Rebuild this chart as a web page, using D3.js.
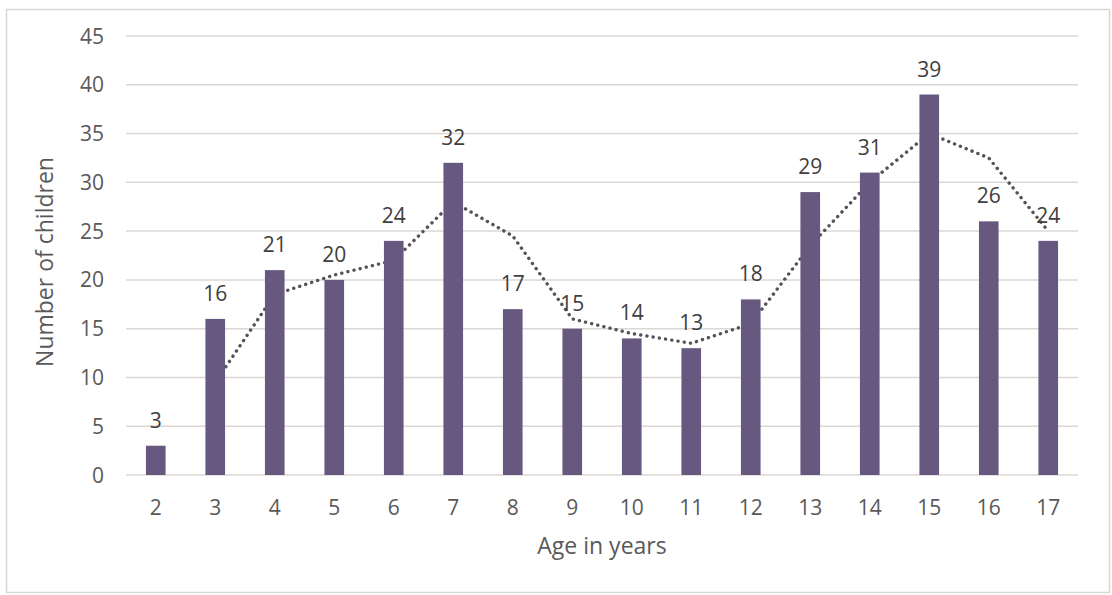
<!DOCTYPE html>
<html>
<head>
<meta charset="utf-8">
<script src="https://cdn.jsdelivr.net/npm/d3@7"></script>
<style>
  body { margin: 0; background: #fff; }
  text { font-family: "Open Sans", Lato, sans-serif; fill: #595959; }
</style>
</head>
<body>
<div id="chart"></div>
<script>
// ages on the x axis
let ages = ["2","3","4","5","6","7","8","9","10","11","12","13","14","15","16","17"];
// number of children per age
let counts = [3,16,21,20,24,32,17,15,14,13,18,29,31,39,26,24];
// 2 period moving average trendline (none for the first age)
let trend = [null,9.5,18.5,20.5,22,28,24.5,16,14.5,13.5,15.5,23.5,30,35,32.5,25];
let yTicks = [0,5,10,15,20,25,30,35,40,45];

function renderChart(){
  let width = 1112,
      height = 595;

  let svg = d3.select("#chart")
    .append("svg")
    .attr("width", width)
    .attr("height", height);

  // outer frame
  svg.append("rect")
    .attr("x", 6.5).attr("y", 9.5)
    .attr("width", 1103).attr("height", 583)
    .attr("fill", "#fff")
    .attr("stroke", "#d9d6d3")
    .attr("stroke-width", 1.5);

  let left = 126, right = 1078, top = 36, bottom = 475;

  let x = d3.scaleBand()
    .domain(ages)
    .range([left, right])
    .paddingInner(0.67)
    .paddingOuter(0.335);

  let y = d3.scaleLinear()
    .domain([0, 45])
    .range([bottom, top]);

  // gridlines
  svg.append("g")
    .selectAll("line")
    .data(yTicks)
    .enter()
    .append("line")
      .attr("x1", left).attr("x2", right)
      .attr("y1", d => y(d)).attr("y2", d => y(d))
      .attr("stroke", "#dcd7d3")
      .attr("stroke-width", 1.5);

  // y tick labels
  svg.append("g")
    .selectAll("text")
    .data(yTicks)
    .enter()
    .append("text")
      .attr("x", 104)
      .attr("y", d => y(d) + 7.5)
      .style("text-anchor", "end")
      .style("font-size", "21px")
      .text(d => d);

  // x tick labels
  svg.append("g")
    .selectAll("text")
    .data(ages)
    .enter()
    .append("text")
      .attr("x", d => x(d) + x.bandwidth()/2)
      .attr("y", 515)
      .style("text-anchor", "middle")
      .style("font-size", "21px")
      .text(d => d);

  // trendline sits behind the bars
  let line = d3.line()
    .defined(d => d != null)
    .x((d,i) => x(ages[i]) + x.bandwidth()/2)
    .y(d => y(d));

  svg.append("path")
    .datum(trend)
    .attr("d", line)
    .attr("fill", "none")
    .attr("stroke", "#57525a")
    .attr("stroke-width", 3.4)
    .attr("stroke-linecap", "round")
    .attr("stroke-dasharray", "0.1,6.2");

  // bars
  svg.append("g")
    .selectAll("rect")
    .data(counts)
    .enter()
    .append("rect")
      .attr("x", (d,i) => x(ages[i]))
      .attr("y", d => y(d))
      .attr("width", x.bandwidth())
      .attr("height", d => bottom - y(d))
      .attr("fill", "#66587f");

  // value labels
  svg.append("g")
    .selectAll("text")
    .data(counts)
    .enter()
    .append("text")
      .attr("x", (d,i) => x(ages[i]) + x.bandwidth()/2)
      .attr("y", d => y(d) - 18)
      .style("text-anchor", "middle")
      .style("font-size", "21px")
      .style("fill", "#404040")
      .text(d => d);

  // axis titles
  svg.append("text")
    .attr("x", 602)
    .attr("y", 554)
    .style("text-anchor", "middle")
    .style("font-size", "23px")
    .text("Age in years");

  svg.append("text")
    .attr("transform", "translate(53,262) rotate(-90)")
    .style("text-anchor", "middle")
    .style("font-size", "23px")
    .text("Number of children");
}

renderChart();
</script>
</body>
</html>
